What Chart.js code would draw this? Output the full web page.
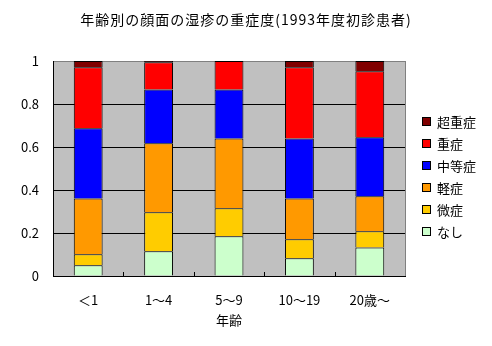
<!DOCTYPE html>
<html>
<head>
<meta charset="utf-8">
<script src="https://cdn.jsdelivr.net/npm/chart.js@4"></script>
<style>
  body { margin: 0; background: #fff; }
  #wrap { width: 492px; height: 346px; }
</style>
</head>
<body>
<div id="wrap"><canvas id="mycanvas" width="492" height="346"></canvas></div>
<script>
var ages = ["＜1", "1～4", "5～9", "10～19", "20歳～"];
var yTicks = [0, 0.2, 0.4, 0.6, 0.8, 1];

var nashi     = [0.050, 0.115, 0.185, 0.082, 0.133];
var bisho     = [0.051, 0.181, 0.130, 0.089, 0.075];
var keisho    = [0.260, 0.321, 0.325, 0.190, 0.163];
var chutosho  = [0.326, 0.251, 0.228, 0.279, 0.274];
var jusho     = [0.284, 0.126, 0.132, 0.331, 0.307];
var chojusho  = [0.029, 0.006, 0.000, 0.029, 0.048];

var FONT = "'Noto Sans CJK JP', sans-serif";

function ds(label, data, color) {
	return {
		label: label,
		data: data,
		backgroundColor: color,
		borderColor: '#000',
		borderWidth: 1,
		barPercentage: 0.41,
		categoryPercentage: 1
	};
}

var chartdata = {
	labels: ages,
	datasets: [
		ds('なし', nashi, '#CCFFCC'),
		ds('微症', bisho, '#FFCC00'),
		ds('軽症', keisho, '#FF9900'),
		ds('中等症', chutosho, '#0000FF'),
		ds('重症', jusho, '#FF0000'),
		ds('超重症', chojusho, '#800000')
	]
};

// gray plot background, frame, inward x ticks, title, legend
var decor = {
	id: 'decor',
	beforeDraw: function(chart) {
		var a = chart.chartArea, c = chart.ctx;
		c.save();
		c.fillStyle = '#C0C0C0';
		c.fillRect(a.left, a.top, a.right - a.left, a.bottom - a.top);
		c.restore();
	},
	afterDraw: function(chart) {
		var a = chart.chartArea, c = chart.ctx, x = chart.scales.x;
		c.save();
		// right border
		c.strokeStyle = '#808080';
		c.lineWidth = 1;
		c.beginPath();
		c.moveTo(Math.round(a.right) + 0.5, a.top);
		c.lineTo(Math.round(a.right) + 0.5, a.bottom);
		c.stroke();
		// ticks between categories
		c.strokeStyle = '#000';
		for (var i = 0; i < ages.length - 1; i++) {
			var px = Math.round((x.getPixelForValue(i) + x.getPixelForValue(i + 1)) / 2) + 0.5;
			c.beginPath();
			c.moveTo(px, a.bottom);
			c.lineTo(px, a.bottom - 4);
			c.stroke();
		}
		// title
		c.fillStyle = '#000';
		c.font = '14px ' + FONT;
		c.textAlign = 'center';
		c.textBaseline = 'middle';
		c.letterSpacing = '1px';
		c.fillText('年齢別の顔面の湿疹の重症度(1993年度初診患者)', 246, 20);
		c.letterSpacing = '0px';
		c.font = '13px ' + FONT;
		// x axis title
		c.fillText('年齢', (a.left + a.right) / 2, 320);
		// legend
		c.textAlign = 'left';
		var sets = chart.data.datasets;
		for (var k = 0; k < sets.length; k++) {
			var d = sets[sets.length - 1 - k];
			var y = 121 + 22 * k;
			c.fillStyle = d.backgroundColor;
			c.fillRect(422, y - 4, 9, 9);
			c.strokeStyle = '#000';
			c.strokeRect(422.5, y - 3.5, 8, 8);
			c.fillStyle = '#000';
			c.fillText(d.label, 437, y + 1);
		}
		c.restore();
	}
};

var ctx = document.getElementById('mycanvas');

var barGraph = new Chart(ctx, {
	type: 'bar',
	data: chartdata,
	plugins: [decor],
	options: {
		responsive: false,
		animation: false,
		layout: { padding: { top: 61, right: 87, left: 0, bottom: 0 } },
		plugins: {
			legend: { display: false },
			title: { display: false },
			tooltip: { enabled: false }
		},
		scales: {
			x: {
				stacked: true,
				grid: { display: false },
				border: { color: '#000', width: 1 },
				ticks: { color: '#000', font: { family: FONT, size: 13 }, padding: 8, maxRotation: 0 },
				afterFit: function(s) { s.height = 70; }
			},
			y: {
				stacked: true,
				min: 0,
				max: 1,
				afterBuildTicks: function(s) {
					s.ticks = yTicks.map(function(v) { return { value: v }; });
				},
				grid: {
					color: function(c) { return c.tick && c.tick.value === 1 ? '#808080' : '#000'; },
					drawTicks: false
				},
				border: { color: '#000', width: 1 },
				ticks: {
					color: '#000',
					font: { family: FONT, size: 13 },
					padding: 14,
					callback: function(v) { return String(v); }
				},
				afterFit: function(s) { s.width = 53; }
			}
		}
	}
});
</script>
</body>
</html>
